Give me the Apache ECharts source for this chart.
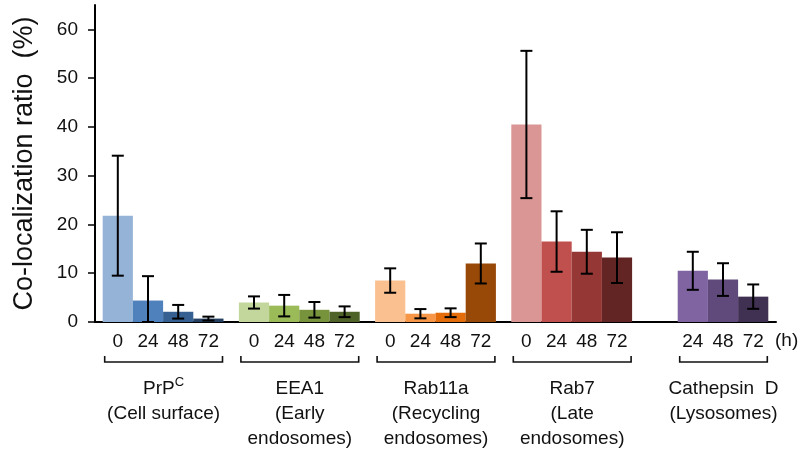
<!DOCTYPE html>
<html>
<head>
<meta charset="utf-8">
<script src="https://cdn.jsdelivr.net/npm/echarts@6/dist/echarts.min.js"></script>
<style>html,body{margin:0;padding:0;background:#fff}#c{width:804px;height:454px}</style>
</head>
<body>
<div id="c"></div>
<script>
// ---- data ----
var groupNames = ['PrP', 'EEA1', 'Rab11a', 'Rab7', 'Cathepsin  D'];
var groupSubtitles = ['(Cell surface)', '(Early\nendosomes)', '(Recycling\nendosomes)', '(Late\nendosomes)', '(Lysosomes)'];
var timeLabels = ['0', '24', '48', '72'];
var mean0  = [21.8, 4.0, 8.5, 40.5, null];
var mean24 = [4.4, 3.35, 1.7, 16.5, 10.5];
var mean48 = [2.1, 2.5, 1.9, 14.4, 8.7];
var mean72 = [0.7, 2.1, 12.0, 13.2, 5.2];
var err0  = [12.3, 1.25, 2.5, 15.1, null];
var err24 = [5.0, 2.2, 0.95, 6.2, 3.9];
var err48 = [1.4, 1.6, 0.9, 4.5, 3.35];
var err72 = [0.4, 1.1, 4.1, 5.2, 2.5];
var yTicks = [0, 10, 20, 30, 40, 50, 60];

// ---- styles ----
var palette = [
  ['#95B3D7', '#4F81BD', '#376092', '#254061'],
  ['#C3D69B', '#9BBB59', '#77933C', '#4F6228'],
  ['#FAC090', '#F79646', '#E46C0A', '#984807'],
  ['#D99694', '#C0504D', '#953735', '#632523'],
  ['#B3A2C7', '#8064A2', '#604A7B', '#403152']
];
var CAT_GAP = 0.113;
var FONT = '"Liberation Sans", Arial, sans-serif';
var FS = 19;

var means = [mean0, mean24, mean48, mean72];
var errs = [err0, err24, err48, err72];

var errData = [];
means.forEach(function (arr, k) {
  arr.forEach(function (v, g) {
    if (v == null) return;
    var e = errs[k][g];
    errData.push([g, k, Math.max(0, v - e), v + e]);
  });
});

var bracketData = groupNames.map(function (n, g) {
  var first = mean0[g] == null ? 1 : 0;
  return [g, first, 3];
});

var barSeries = means.map(function (arr, k) {
  return {
    type: 'bar',
    name: timeLabels[k],
    data: arr,
    barGap: 0,
    barCategoryGap: (CAT_GAP * 100) + '%',
    itemStyle: { color: function (p) { return palette[p.dataIndex][k]; } },
    label: {
      show: true, position: 'bottom', distance: 10,
      formatter: function () { return timeLabels[k]; },
      fontFamily: FONT, fontSize: FS, color: '#111'
    },
    silent: true
  };
});

var option = {
  animation: false,
  grid: { left: 95, right: 28, top: 5, bottom: 132 },
  xAxis: {
    type: 'category',
    data: groupNames,
    axisLine: { lineStyle: { color: '#000', width: 2 } },
    axisTick: { show: false },
    axisLabel: { show: false }
  },
  yAxis: {
    type: 'value', min: 0, max: 65, interval: 10,
    name: 'Co-localization ratio  (%)',
    nameLocation: 'middle', nameGap: 57, nameRotate: 90,
    nameTextStyle: { fontFamily: FONT, fontSize: 27, color: '#111' },
    axisLine: { show: true, lineStyle: { color: '#000', width: 2 } },
    axisTick: { show: true, length: 7, customValues: yTicks, lineStyle: { color: '#000', width: 1.5 } },
    axisLabel: { customValues: yTicks, margin: 17, fontFamily: FONT, fontSize: FS, color: '#111' },
    splitLine: { show: false }
  },
  graphic: [{
    type: 'text', left: 775, top: 331,
    style: { text: '(h)', fontFamily: FONT, fontSize: FS, fill: '#111' }
  }],
  series: barSeries.concat([
    {
      type: 'custom',
      data: errData,
      encode: { x: 0, y: [2, 3] },
      z: 5,
      silent: true,
      renderItem: function (params, api) {
        var g = api.value(0), k = api.value(1);
        var c = api.coord([g, 0]);
        var catW = api.size([1, 0])[0];
        var bw = catW * (1 - CAT_GAP) / 4;
        var x = c[0] + (k - 1.5) * bw;
        var yl = api.coord([g, api.value(2)])[1];
        var yh = api.coord([g, api.value(3)])[1];
        var hw = 6;
        var st = { stroke: '#000', lineWidth: 2 };
        return {
          type: 'group',
          children: [
            { type: 'line', shape: { x1: x, y1: yl, x2: x, y2: yh }, style: st },
            { type: 'line', shape: { x1: x - hw, y1: yh, x2: x + hw, y2: yh }, style: st },
            { type: 'line', shape: { x1: x - hw, y1: yl, x2: x + hw, y2: yl }, style: st }
          ]
        };
      }
    },
    {
      type: 'custom',
      data: bracketData,
      encode: { x: 0 },
      silent: true,
      clip: false,
      renderItem: function (params, api) {
        var g = api.value(0);
        var c = api.coord([g, 0]);
        var catW = api.size([1, 0])[0];
        var bw = catW * (1 - CAT_GAP) / 4;
        var x1 = c[0] + (api.value(1) - 2) * bw + 2;
        var x2 = c[0] + (api.value(2) - 1) * bw - 1;
        var yb = c[1] + 40;
        var st = { stroke: '#111', lineWidth: 1.6, fill: null };
        var cx = (x1 + x2) / 2;
        var title = groupNames[g];
        var rich = g === 0 ? '{n|PrP}{s|C}' : '{n|' + title + '}';
        return {
          type: 'group',
          children: [
            { type: 'polyline', shape: { points: [[x1, yb - 6], [x1, yb], [x2, yb], [x2, yb - 6]] }, style: st },
            { type: 'text', x: cx, y: c[1] + 54,
              style: { text: rich, align: 'center', verticalAlign: 'top',
                rich: {
                  n: { fontFamily: FONT, fontSize: FS, fill: '#111', lineHeight: 25 },
                  s: { fontFamily: FONT, fontSize: 13, fill: '#111', lineHeight: 25, verticalAlign: 'top', padding: [0, 0, 6, 0] }
                } } },
            { type: 'text', x: cx, y: c[1] + 79,
              style: { text: groupSubtitles[g], align: 'center', verticalAlign: 'top',
                fontFamily: FONT, fontSize: FS, fill: '#111', lineHeight: 25 } }
          ]
        };
      }
    }
  ])
};

var chart = echarts.init(document.getElementById('c'), null, { renderer: 'canvas' });
chart.setOption(option);
</script>
</body>
</html>
